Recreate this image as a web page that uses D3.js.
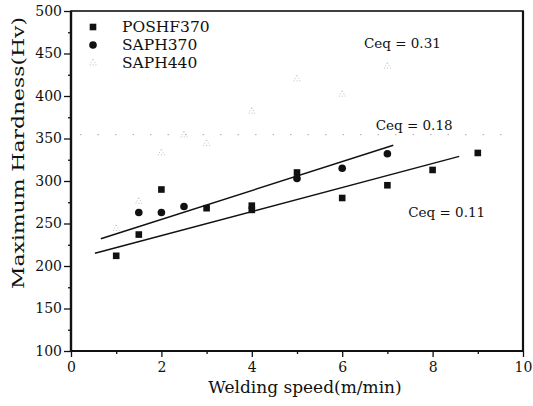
<!DOCTYPE html>
<html>
<head>
<meta charset="utf-8">
<script src="https://cdn.jsdelivr.net/npm/d3@7"></script>
<style>
  body { margin: 0; background: #fff; }
  svg { display: block; }
  text { font-family: "DejaVu Serif", "Liberation Serif", serif; fill: #111; }
</style>
</head>
<body>
<svg></svg>
<script>
// series
const poshfX = [1, 1.5, 2, 3, 4, 4, 5, 6, 7, 8, 9];
const poshfY = [212, 237, 290, 268, 271, 266, 310, 280, 295, 313, 333];

const saph370X = [1.5, 2, 2.5, 5, 6, 7];
const saph370Y = [263, 263, 270, 303, 315, 332];

const saph440X = [1, 1.5, 2, 2.5, 3, 4, 5, 6, 7];
const saph440Y = [244, 276, 333, 354, 344, 382, 420, 402, 435];

// fitted lines (start / end)
const fit018X = [0.66, 7.13];
const fit018Y = [232, 342];
const fit011X = [0.53, 8.59];
const fit011Y = [215, 329];

// faint dotted line across the plot
const dotX = [0.2, 9.8];
const dotY = [354.5, 354.5];

const legendNames = ["POSHF370", "SAPH370", "SAPH440"];

const ceqLabels = ["Ceq = 0.31", "Ceq = 0.18", "Ceq = 0.11"];
const ceqX = [6.48, 6.74, 7.46];
const ceqY = [462, 366, 263];

const xTicks = [0, 2, 4, 6, 8, 10];
const xMinor = [1, 3, 5, 7, 9];
const yTicks = [100, 150, 200, 250, 300, 350, 400, 450, 500];
const yMinor = [125, 175, 225, 275, 325, 375, 425, 475];

let width = 533;
let height = 406;
let padding = { top: 11, right: 10, bottom: 55, left: 71 };

let svg = d3.select("svg")
    .attr("width", width)
    .attr("height", height);

let xScale = d3.scaleLinear()
    .domain([0, 10])
    .range([padding.left, width - padding.right]);

let yScale = d3.scaleLinear()
    .domain([100, 500])
    .range([height - padding.bottom, padding.top]);

let zip = (xs, ys) => xs.map((x, i) => ({ x: x, y: ys[i] }));

let drawAxis = () => {
    let xAxis = d3.axisBottom(xScale)
        .tickValues(xTicks)
        .tickSize(6)
        .tickPadding(5)
        .tickFormat(d3.format("d"));
    let xAxisMinor = d3.axisBottom(xScale)
        .tickValues(xMinor)
        .tickSize(3)
        .tickFormat("");
    let yAxis = d3.axisLeft(yScale)
        .tickValues(yTicks)
        .tickSize(7)
        .tickPadding(2)
        .tickFormat(d3.format("d"));
    let yAxisMinor = d3.axisLeft(yScale)
        .tickValues(yMinor)
        .tickSize(3)
        .tickFormat("");

    svg.append("g")
        .attr("transform", `translate(0,${height - padding.bottom})`)
        .call(xAxis);
    svg.append("g")
        .attr("transform", `translate(0,${height - padding.bottom})`)
        .call(xAxisMinor);
    svg.append("g")
        .attr("transform", `translate(${padding.left},0)`)
        .call(yAxis);
    svg.append("g")
        .attr("transform", `translate(${padding.left},0)`)
        .call(yAxisMinor);

    svg.selectAll(".domain").remove();
    svg.selectAll(".tick line").attr("stroke", "#111").attr("stroke-width", 1.3);
    svg.selectAll(".tick text")
        .style("font-family", '"DejaVu Serif", serif')
        .style("font-size", "14px")
        .attr("fill", "#222");

    // frame
    svg.append("rect")
        .attr("x", xScale(0))
        .attr("y", yScale(500))
        .attr("width", xScale(10) - xScale(0))
        .attr("height", yScale(100) - yScale(500))
        .attr("fill", "none")
        .attr("stroke", "#111")
        .attr("stroke-width", 1.6);
    svg.append("line")
        .attr("x1", xScale(0)).attr("x2", xScale(0))
        .attr("y1", yScale(500)).attr("y2", yScale(100))
        .attr("stroke", "#111").attr("stroke-width", 2.4);
    svg.append("line")
        .attr("x1", xScale(0)).attr("x2", xScale(10))
        .attr("y1", yScale(100)).attr("y2", yScale(100))
        .attr("stroke", "#111").attr("stroke-width", 2.2);
    svg.append("line")
        .attr("x1", xScale(10)).attr("x2", xScale(10))
        .attr("y1", yScale(500)).attr("y2", yScale(100))
        .attr("stroke", "#111").attr("stroke-width", 2.2);

    svg.append("text")
        .attr("x", 305)
        .attr("y", 393)
        .attr("text-anchor", "middle")
        .attr("fill", "#222")
        .style("font-size", "17px")
        .text("Welding speed(m/min)");

    svg.append("text")
        .attr("transform", "rotate(-90)")
        .attr("x", -153)
        .attr("y", 24)
        .attr("text-anchor", "middle")
        .attr("textLength", 272)
        .attr("lengthAdjust", "spacingAndGlyphs")
        .attr("fill", "#222")
        .style("font-size", "17px")
        .text("Maximum Hardness(Hv)");
}

let drawLines = () => {
    let line = d3.line().x(d => xScale(d.x)).y(d => yScale(d.y));

    svg.append("path")
        .datum(zip(dotX, dotY))
        .attr("d", line)
        .attr("fill", "none")
        .attr("stroke", "#aaa")
        .attr("stroke-width", 1)
        .attr("stroke-dasharray", "1.5 16");

    [zip(fit018X, fit018Y), zip(fit011X, fit011Y)].forEach(pts => {
        svg.append("path")
            .datum(pts)
            .attr("d", line)
            .attr("fill", "none")
            .attr("stroke", "#111")
            .attr("stroke-width", 1.5);
    });
}

let drawPoints = () => {
    let tri = d3.symbol().type(d3.symbolTriangle).size(18);

    svg.selectAll(".tri")
        .data(zip(saph440X, saph440Y))
        .enter()
        .append("path")
        .attr("class", "tri")
        .attr("d", tri)
        .attr("transform", d => `translate(${xScale(d.x)},${yScale(d.y)})`)
        .attr("fill", "none")
        .attr("stroke", "#aaa")
        .attr("stroke-width", 0.8)
        .attr("stroke-dasharray", "1 2");

    svg.selectAll(".dot")
        .data(zip(saph370X, saph370Y))
        .enter()
        .append("circle")
        .attr("class", "dot")
        .attr("cx", d => xScale(d.x))
        .attr("cy", d => yScale(d.y))
        .attr("r", 3.8)
        .attr("fill", "#111");

    svg.selectAll(".sq")
        .data(zip(poshfX, poshfY))
        .enter()
        .append("rect")
        .attr("class", "sq")
        .attr("x", d => xScale(d.x) - 3.3)
        .attr("y", d => yScale(d.y) - 3.3)
        .attr("width", 6.6)
        .attr("height", 6.6)
        .attr("fill", "#111");
}

let drawLegend = () => {
    let leg = svg.append("g").attr("transform", "translate(93,27)");
    let rowH = 18;

    leg.append("rect")
        .attr("x", -3.3).attr("y", -3.3)
        .attr("width", 6.6).attr("height", 6.6)
        .attr("fill", "#111");
    leg.append("circle")
        .attr("cx", 0).attr("cy", rowH)
        .attr("r", 3.8)
        .attr("fill", "#111");
    leg.append("path")
        .attr("d", d3.symbol().type(d3.symbolTriangle).size(18))
        .attr("transform", `translate(0,${rowH * 2})`)
        .attr("fill", "none")
        .attr("stroke", "#aaa")
        .attr("stroke-width", 0.8)
        .attr("stroke-dasharray", "1 2");

    leg.selectAll(".legText")
        .data(legendNames)
        .enter()
        .append("text")
        .attr("class", "legText")
        .attr("x", 29)
        .attr("y", (d, i) => i * rowH + 5)
        .attr("fill", "#222")
        .style("font-size", "15.5px")
        .text(d => d);
}

let drawCeq = () => {
    svg.selectAll(".ceq")
        .data(ceqLabels)
        .enter()
        .append("text")
        .attr("class", "ceq")
        .attr("x", (d, i) => xScale(ceqX[i]))
        .attr("y", (d, i) => yScale(ceqY[i]) + 5)
        .attr("fill", "#222")
        .style("font-size", "13.5px")
        .text(d => d);
}

drawLines();
drawPoints();
drawAxis();
drawLegend();
drawCeq();
</script>
</body>
</html>
